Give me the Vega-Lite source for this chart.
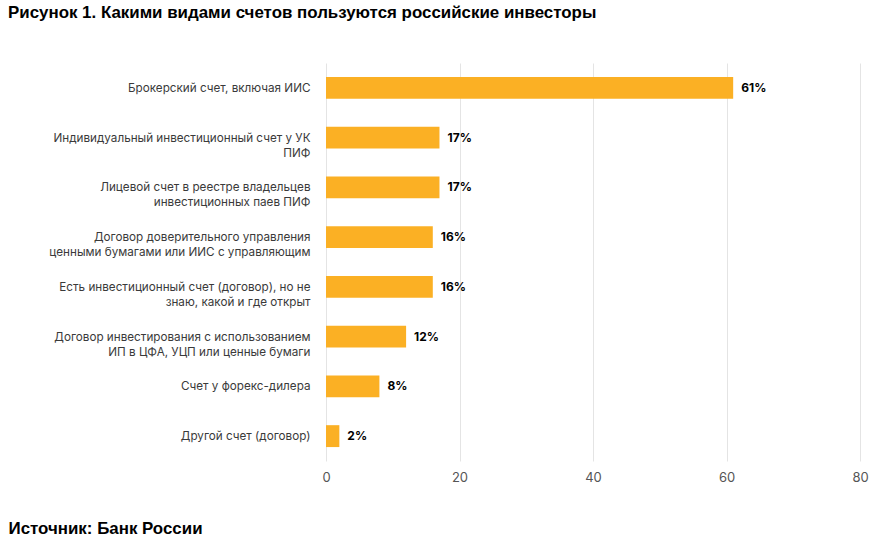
{
  "$schema": "https://vega.github.io/schema/vega-lite/v6.json",
  "width": 534,
  "height": 398,
  "autosize": {"type": "none"},
  "padding": {"left": 326, "top": 63, "right": 23, "bottom": 90},
  "background": "white",
  "title": {
    "text": "Рисунок 1. Какими видами счетов пользуются российские инвесторы",
    "anchor": "start",
    "frame": "group",
    "dx": -318,
    "offset": 41,
    "font": "Liberation Sans",
    "fontSize": 16.9,
    "fontWeight": "bold",
    "color": "#000000"
  },
  "config": {
    "view": {"stroke": null},
    "font": "Inter"
  },
  "data": {
    "values": [
      {"cat": "Брокерский счет, включая ИИС", "v": 61, "lbl": "61%"},
      {"cat": "Индивидуальный инвестиционный счет у УК|ПИФ", "v": 17, "lbl": "17%"},
      {"cat": "Лицевой счет в реестре владельцев|инвестиционных паев ПИФ", "v": 17, "lbl": "17%"},
      {"cat": "Договор доверительного управления|ценными бумагами или ИИС с управляющим", "v": 16, "lbl": "16%"},
      {"cat": "Есть инвестиционный счет (договор), но не|знаю, какой и где открыт", "v": 16, "lbl": "16%"},
      {"cat": "Договор инвестирования с использованием|ИП в ЦФА, УЦП или ценные бумаги", "v": 12, "lbl": "12%"},
      {"cat": "Счет у форекс-дилера", "v": 8, "lbl": "8%"},
      {"cat": "Другой счет (договор)", "v": 2, "lbl": "2%"}
    ]
  },
  "encoding": {
    "y": {
      "field": "cat",
      "type": "nominal",
      "sort": null,
      "scale": {"paddingInner": 0.56, "paddingOuter": 0.28},
      "axis": {
        "title": null,
        "domain": false,
        "ticks": false,
        "labelExpr": "split(datum.value, '|')",
        "labelFont": "Inter",
        "labelFontSize": 11.7,
        "labelColor": "#3a3a3a",
        "labelLineHeight": 15,
        "labelPadding": 16,
        "labelLimit": 400
      }
    },
    "x": {
      "field": "v",
      "type": "quantitative",
      "scale": {"domain": [0, 80], "nice": false},
      "axis": {
        "values": [0, 20, 40, 60, 80],
        "domain": false,
        "ticks": false,
        "grid": true,
        "gridColor": "#e4e4e4",
        "labelFlush": false,
        "labelFont": "Inter",
        "labelFontSize": 13,
        "labelColor": "#555555",
        "labelPadding": 10,
        "title": "Источник: Банк России",
        "titleFont": "Liberation Sans",
        "titleFontSize": 16.9,
        "titleFontWeight": "bold",
        "titleColor": "#000000",
        "titleAnchor": null,
        "titleAlign": "left",
        "titleBaseline": "alphabetic",
        "titleX": -318,
        "titleY": 72
      }
    }
  },
  "layer": [
    {"mark": {"type": "bar", "color": "#FBB024"}},
    {
      "mark": {"type": "text", "align": "left", "dx": 8, "font": "Inter", "fontSize": 12, "fontWeight": "bold", "color": "#000000"},
      "encoding": {"text": {"field": "lbl"}}
    }
  ]
}
